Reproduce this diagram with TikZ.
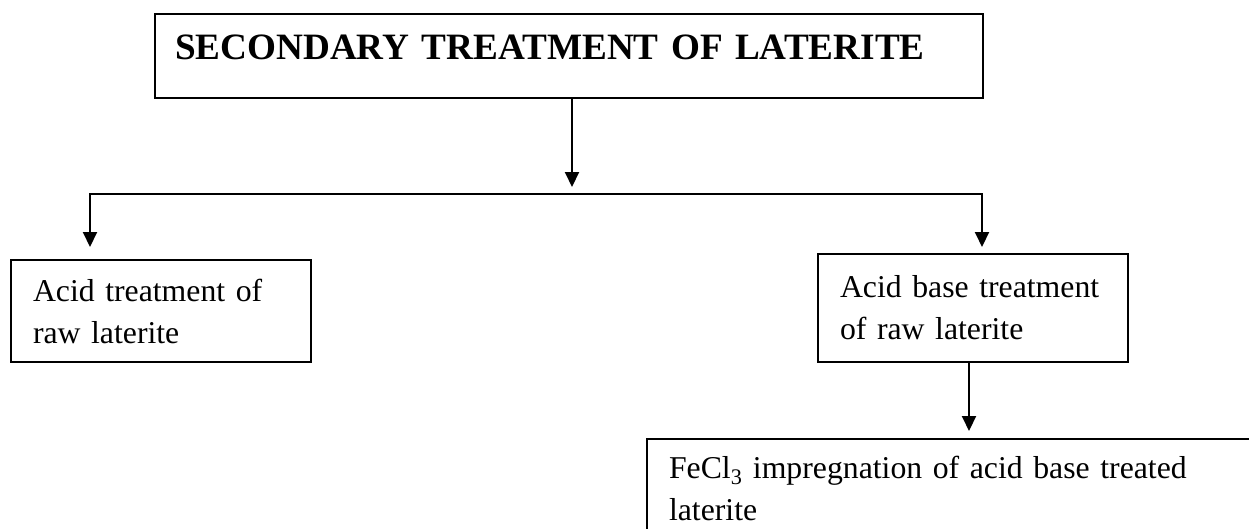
\documentclass[tikz,border=0pt]{standalone}
\usepackage{fontspec}
\setmainfont{Liberation Serif}
\usetikzlibrary{arrows.meta}
\tikzset{
  stepbox/.style={draw, line width=2pt, rectangle, anchor=north west, align=left,
    inner xsep=22pt, inner ysep=0pt, font=\fontsize{31.75}{42}\selectfont},
  tip/.tip={Triangle[length=15pt,width=14pt]},
  flow/.style={line width=2pt, -tip},
}
\begin{document}
\begin{tikzpicture}[x=1pt,y=-1pt]
\clip (0,0) rectangle (1249,528);
\node[stepbox, minimum width=828pt, minimum height=84pt, inner xsep=20pt, text width=788pt,
  text depth=17pt, font=\fontsize{37.2}{44}\selectfont\bfseries] (title) at (154,13)
  {SECONDARY TREATMENT OF LATERITE};
\node[stepbox, minimum width=300pt, minimum height=102pt, text width=256pt] (acid) at (10,259)
  {Acid treatment of\\raw laterite};
\node[stepbox, minimum width=310pt, minimum height=108pt, text width=266pt] (acidbase) at (817,253)
  {Acid base treatment\\of raw laterite};
\node[stepbox, minimum width=620pt, inner ysep=17pt, text width=576pt] (fecl) at (646,438)
  {FeCl\textsubscript{3} impregnation of acid base treated\\laterite};
\coordinate (fork) at (572,187);
\coordinate (barL) at (90,194);
\coordinate (barR) at (982,194);
\draw[flow] (title.south -| fork) -- (fork);
\draw[line width=2pt, tip-tip] ([yshift=12pt]acid.north -| barL) -- (barL) -- (barR)
  -- ([yshift=6pt]acidbase.north -| barR);
\draw[flow, shorten >=7pt] (acidbase.south -| 969,0) -- (fecl.north -| 969,0);
\end{tikzpicture}
\end{document}
